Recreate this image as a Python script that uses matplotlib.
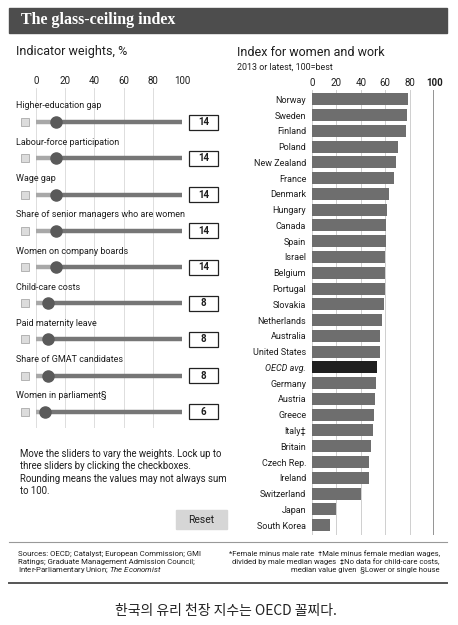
import matplotlib
matplotlib.use('Agg')
from matplotlib import pyplot as plt
from matplotlib.patches import Rectangle

plt.rcParams['font.family'] = ['Roboto', 'DejaVu Sans']
plt.rcParams['mathtext.fontset'] = 'custom'
plt.rcParams['mathtext.rm'] = 'Roboto'
plt.rcParams['mathtext.it'] = 'Roboto:italic'

# indicator weights (left panel)
indicators = ['Higher-education gap', 'Labour-force participation', 'Wage gap',
              'Share of senior managers who are women', 'Women on company boards',
              'Child-care costs', 'Paid maternity leave', 'Share of GMAT candidates',
              'Women in parliament§']
weights = [14, 14, 14, 14, 14, 8, 8, 8, 6]
weight_ticks = [0, 20, 40, 60, 80, 100]

# index for women and work (right panel)
countries = ['Norway', 'Sweden', 'Finland', 'Poland', 'New Zealand', 'France',
             'Denmark', 'Hungary', 'Canada', 'Spain', 'Israel', 'Belgium',
             'Portugal', 'Slovakia', 'Netherlands', 'Australia', 'United States',
             'OECD avg.', 'Germany', 'Austria', 'Greece', 'Italy‡', 'Britain',
             'Czech Rep.', 'Ireland', 'Switzerland', 'Japan', 'South Korea']
index = [78.3, 77.5, 76.7, 70.7, 68.8, 67.2, 63.4, 61.7, 60.9, 60.4, 59.8, 59.6,
         59.6, 58.8, 57.1, 55.8, 55.8, 53.3, 52.5, 51.7, 50.9, 50.3, 48.4,
         46.8, 46.5, 40.0, 19.6, 14.7]
index_ticks = [0, 20, 40, 60, 80, 100]

W, H = 458, 625
TXT = '#1e1e1e'
fig = plt.figure(figsize=(W / 100, H / 100), dpi=100)

# background layer in pixel units
ov = fig.add_axes([0, 0, 1, 1])
ov.set_xlim(0, W)
ov.set_ylim(H, 0)
ov.axis('off')

ov.add_patch(Rectangle((9, 8), 438, 25, color='#4d4d4d'))
ov.text(21, 20.5, 'The glass-ceiling index', color='white', fontsize=11.5,
        fontweight='bold', family='Liberation Serif', va='center')
ov.text(16, 52, 'Indicator weights, %', fontsize=9, va='center', color=TXT)
ov.text(237, 52, 'Index for women and work', fontsize=9, va='center', color=TXT)
ov.text(237, 67, '2013 or latest, 100=best', fontsize=6.4, va='center', color=TXT)

note = ['Move the sliders to vary the weights. Lock up to',
        'three sliders by clicking the checkboxes.',
        'Rounding means the values may not always sum',
        'to 100.']
for k, line in enumerate(note):
    ov.text(20, 454 + k * 12.4, line, fontsize=6.9, va='center', color=TXT)

ov.add_patch(Rectangle((176, 510), 51, 19, color='#d6d6d6'))
ov.text(201.5, 520, 'Reset', fontsize=7.5, ha='center', va='center', color=TXT)

# footer
ov.plot([9, 447], [542, 542], color='#999', lw=0.8)
ov.plot([9, 447], [583, 583], color='#555', lw=1.4)
src = ['Sources: OECD; Catalyst; European Commission; GMI',
       'Ratings; Graduate Management Admission Council;',
       r'Inter-Parliamentary Union; $\it{The\ Economist}$']
for k, line in enumerate(src):
    ov.text(18, 554 + k * 8, line, fontsize=5.6, va='center', color=TXT)
notes = ['*Female minus male rate  †Male minus female median wages,',
         'divided by male median wages  ‡No data for child-care costs,',
         'median value given  §Lower or single house']
for k, line in enumerate(notes):
    ov.text(440, 554 + k * 8, line, fontsize=5.5, va='center', ha='right', color=TXT)

ov.text(226, 611, '한국의 유리 천장 지수는 OECD 꼴찌다.', fontsize=10, ha='center',
        va='center', family=['Noto Sans CJK KR', 'DejaVu Sans'], color='#222')

# left panel: sliders
row_px = 36.25
top, bottom, first = 88, 428, 122
lax = fig.add_axes([36 / W, 1 - bottom / H, 146 / W, (bottom - top) / H])
lax.patch.set_alpha(0)
lax.set_xlim(0, 100)
lax.set_ylim((bottom - first) / row_px, (top - first) / row_px)
for s in lax.spines.values():
    s.set_visible(False)
lax.xaxis.tick_top()
lax.set_xticks(weight_ticks)
lax.tick_params(axis='x', length=0, pad=1.5, labelsize=7, colors=TXT)
lax.set_yticks([])
lax.grid(axis='x', color='#d8d8d8', lw=0.6)
lax.set_axisbelow(True)

px = 100 / 146
for i, (name, w) in enumerate(zip(indicators, weights)):
    lax.text(-20 * px, i - 16 / row_px, name, fontsize=6.5, va='center',
             color=TXT, clip_on=False)
    lax.add_patch(Rectangle((-15 * px, i - 4 / row_px), 8 * px, 8 / row_px,
                            facecolor='#dcdcdc', edgecolor='#aaa', lw=0.6,
                            clip_on=False))
    lax.plot([0, w], [i, i], color='#a8a8a8', lw=3.2, solid_capstyle='butt', zorder=2)
    lax.plot([w, 100], [i, i], color='#767676', lw=3.2, solid_capstyle='round', zorder=2)
    lax.scatter([w], [i], s=64, color='#5a5a5a', zorder=3, clip_on=False)
    lax.add_patch(Rectangle((153 * px, i - 7.5 / row_px), 29 * px, 15 / row_px,
                            facecolor='white', edgecolor='#222', lw=0.9,
                            clip_on=False))
    lax.text(167.5 * px, i, str(w), fontsize=7, fontweight='bold',
             ha='center', va='center', color=TXT, clip_on=False)

# right panel: bars
bar_px = 15.77
rtop, rbottom, rfirst = 90, 535, 99.3
rax = fig.add_axes([311.7 / W, 1 - rbottom / H, 122.5 / W, (rbottom - rtop) / H])
rax.patch.set_alpha(0)
colors = ['#1f1f1f' if c == 'OECD avg.' else '#6e6e6e' for c in countries]
ypos = list(range(len(countries)))
rax.barh(ypos, index, height=0.76, color=colors, zorder=2)
rax.set_xlim(0, 100)
rax.set_ylim((rbottom - rfirst) / bar_px, (rtop - rfirst) / bar_px)
for s in rax.spines.values():
    s.set_visible(False)
for t in index_ticks[:-1]:
    rax.axvline(t, color='#cfcfcf', lw=0.7, zorder=1)
rax.axvline(100, color='#777', lw=1.1, zorder=1)
rax.xaxis.tick_top()
rax.set_xticks(index_ticks)
rax.tick_params(axis='x', length=0, pad=1.5, labelsize=7, colors=TXT)
rax.get_xticklabels()[-1].set_fontweight('bold')
rax.set_yticks(ypos)
rax.set_yticklabels(countries)
rax.tick_params(axis='y', length=0, pad=4, labelsize=6.5, colors=TXT)
for lab in rax.get_yticklabels():
    if lab.get_text() == 'OECD avg.':
        lab.set_style('italic')

fig.savefig('out.png', dpi=100)
